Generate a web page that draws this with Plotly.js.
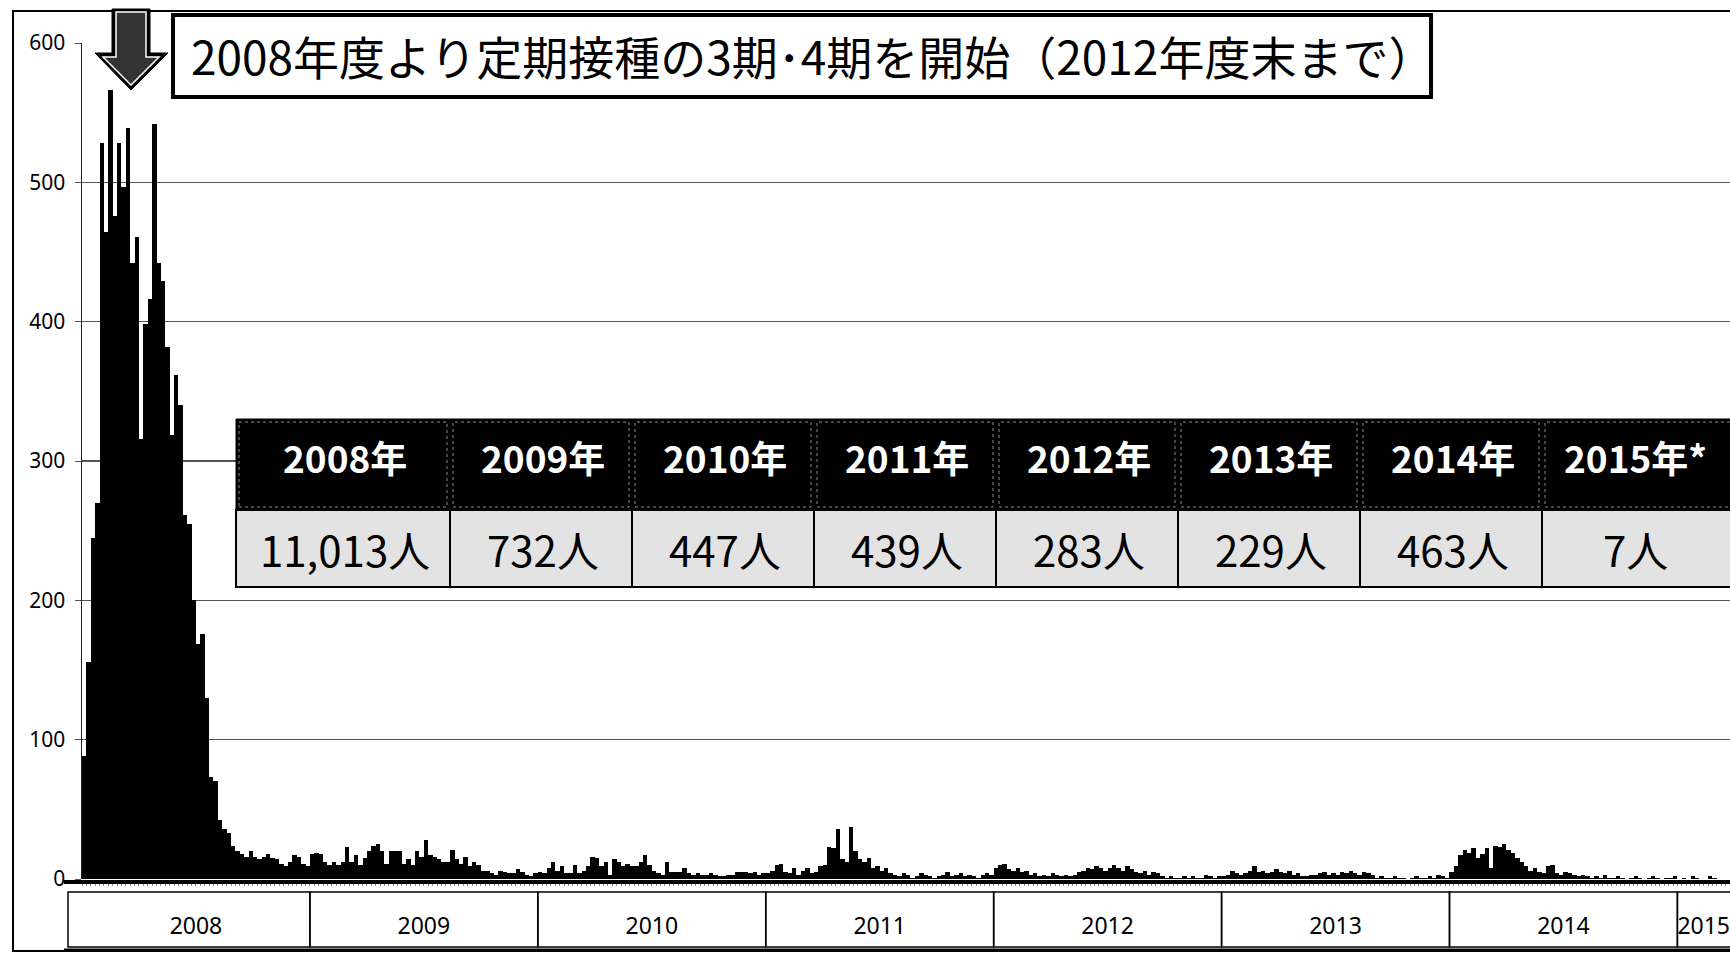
<!DOCTYPE html>
<html><head><meta charset="utf-8">
<script src="https://cdn.plot.ly/plotly-3.0.1.min.js"></script>
<style>html,body{margin:0;padding:0;background:#fff;overflow:hidden}#chart{width:1730px;height:956px}</style>
</head><body><div id="chart"></div>
<script>
// ---- data (weekly reported measles cases) ----
const years = ['2008','2009','2010','2011','2012','2013','2014','2015'];
const cases2008 = [88,156,245,270,528,464,566,476,528,497,539,442,461,316,398,416,542,442,429,382,319,362,340,261,255,200,169,176,130,73,70,42,36,33,24,20,18,16,20,16,14,16,18,15,14,11,9,12,17,16,11,9];
const cases2009 = [18,19,18,12,10,12,10,12,23,12,17,10,15,20,24,25,20,11,20,20,20,11,14,10,20,16,28,17,16,14,12,12,21,14,11,16,9,12,10,6,6,4,3,6,5,4,4,7,5,3,2,4];
const cases2010 = [5,4,8,12,6,9,4,4,10,4,6,9,16,15,9,12,3,14,12,9,11,9,9,12,17,10,6,4,3,12,5,5,5,8,4,3,4,3,3,4,3,2,2,3,3,5,5,5,4,5,3,4];
const cases2011 = [4,6,10,11,5,4,8,3,6,8,4,5,9,10,23,22,36,14,12,37,20,14,12,15,8,9,6,8,4,3,2,4,3,1,2,4,3,2,1,2,3,5,2,3,4,2,3,2,1,3,4,3];
const cases2012 = [8,10,11,7,6,8,5,6,3,4,2,3,2,4,3,2,3,2,3,5,6,8,7,9,8,6,8,10,8,6,9,7,5,4,6,3,5,4,2,1,2,1,1,2,1,2,1,1,3,2,1,2];
const cases2013 = [2,3,6,4,3,4,6,9,5,6,4,5,7,5,4,6,3,4,2,2,3,3,4,5,3,4,3,5,4,6,4,3,5,4,3,1,2,1,1,2,1,1,0,1,2,1,1,2,1,3,2,1];
const cases2014 = [5,9,17,21,19,22,15,18,22,8,24,23,25,21,19,15,12,9,6,8,5,4,9,10,4,3,5,4,3,2,3,2,1,2,1,3,1,1,2,1,0,1,2,1,0,1,2,1,0,1,1,2];
const cases2015 = [0,1,0,2,1,0,0,2,1,0,0,0];
const yTicks = [0,100,200,300,400,500,600];
const tableYears = ['2008年','2009年','2010年','2011年','2012年','2013年','2014年','2015年*'];
const tableCounts = ['11,013人','732人','447人','439人','283人','229人','463人','7人'];
const titleText = '2008年度より定期接種の3期･4期を開始（2012年度末まで）';

// ---- build series ----
const weekly = [cases2008,cases2009,cases2010,cases2011,cases2012,cases2013,cases2014,cases2015];
const xs = [], ys = [], yearStarts = [], tickvals = [];
let idx = 0;
weekly.forEach((arr,k)=>{
  yearStarts.push(idx);
  tickvals.push(arr.length >= 52 ? idx + 25.5 : idx + 5.5);
  arr.forEach(v=>{ xs.push(idx); ys.push(v); idx++; });
});
const nWeeks = idx;

// ---- layout geometry helpers (pixel -> paper) ----
const L = 82, T = 43, W = 1648, H = 836, B = T + H;
const px = X => (X - L) / W;
const py = Y => (B - Y) / H;
const pathFrom = pts => 'M ' + pts.map(p => px(p[0]) + ',' + py(p[1])).join(' L ') + ' Z';

const shapes = [];
const annotations = [];
// outer frame
shapes.push({type:'rect', xref:'paper', yref:'paper', x0:px(13), x1:px(1745), y0:py(951), y1:py(11), line:{color:'#000', width:2}, fillcolor:'rgba(0,0,0,0)', layer:'above'});
// thick baseline and bottom line
shapes.push({type:'line', xref:'paper', yref:'paper', x0:px(64), x1:px(1745), y0:py(882), y1:py(882), line:{color:'#000', width:4}, layer:'above'});
shapes.push({type:'line', xref:'paper', yref:'paper', x0:px(64), x1:px(1745), y0:py(950), y1:py(950), line:{color:'#000', width:3}, layer:'above'});
// year boxes
yearStarts.forEach((s,k)=>{
  const x0 = k === 0 ? px(68) : s / nWeeks;
  const x1 = Math.min((s + 52) / nWeeks, 1.02);
  shapes.push({type:'rect', xref:'paper', yref:'paper', x0:x0, x1:x1, y0:py(947), y1:py(892), line:{color:'#000', width:1.5}, fillcolor:'rgba(0,0,0,0)', layer:'above'});
});
// title box
shapes.push({type:'rect', xref:'paper', yref:'paper', x0:px(173), x1:px(1431), y0:py(97), y1:py(15), line:{color:'#000', width:4}, fillcolor:'#fff', layer:'above'});
annotations.push({xref:'paper', yref:'paper', x:px(189), y:py(55), xanchor:'left', yanchor:'middle', text:titleText, showarrow:false, font:{family:'Noto Sans CJK JP', size:46, color:'#000'}});
// arrow
shapes.push({type:'path', xref:'paper', yref:'paper', path:pathFrom([[112,9],[150,9],[150,53],[168,53],[131,90],[95,53],[112,53]]), fillcolor:'#000', line:{color:'#000', width:1}, layer:'above'});
shapes.push({type:'path', xref:'paper', yref:'paper', path:pathFrom([[116,12],[146,12],[146,57],[159,57],[131,85],[103,57],[116,57]]), fillcolor:'#333', line:{color:'#fff', width:1.5}, layer:'above'});
// table
const colEdges = [236];
tableYears.forEach((t,i)=>{ colEdges.push(colEdges[i] + (i === 0 ? 214 : 182)); });
const hTop = 419, hBot = 510, vBot = 587;
tableYears.forEach((t,i)=>{
  const a = colEdges[i], b = colEdges[i+1] + (i === tableYears.length-1 ? 30 : 0);
  shapes.push({type:'rect', xref:'paper', yref:'paper', x0:px(a), x1:px(b), y0:py(hBot), y1:py(hTop), fillcolor:'#000', line:{color:'#000', width:1}, layer:'above'});
  shapes.push({type:'rect', xref:'paper', yref:'paper', x0:px(a+3), x1:px(b-3), y0:py(hBot-3), y1:py(hTop+3), fillcolor:'rgba(0,0,0,0)', line:{color:'#8a8a8a', width:1, dash:'dot'}, layer:'above'});
  shapes.push({type:'rect', xref:'paper', yref:'paper', x0:px(a), x1:px(b), y0:py(vBot), y1:py(hBot), fillcolor:'#e3e3e3', line:{color:'#000', width:2}, layer:'above'});
  const cx = px((colEdges[i] + colEdges[i+1]) / 2 + 2);
  annotations.push({xref:'paper', yref:'paper', x:cx, y:py(457), xanchor:'center', yanchor:'middle', text:t, showarrow:false, font:{family:'Noto Sans CJK JP', size:37, color:'#fff', weight:700}});
  annotations.push({xref:'paper', yref:'paper', x:cx, y:py(548), xanchor:'center', yanchor:'middle', text:tableCounts[i], showarrow:false, font:{family:'Noto Sans CJK JP', size:42, color:'#000'}});
});

const trace = {type:'bar', x:xs, y:ys, marker:{color:'#000', line:{width:0}}, hoverinfo:'skip'};

const layout = {
  width:1730, height:956,
  margin:{l:L, r:0, t:T, b:956 - B},
  paper_bgcolor:'#fff', plot_bgcolor:'#fff',
  bargap:0, showlegend:false,
  xaxis:{range:[-0.5, nWeeks - 0.5], tickmode:'array', tickvals:tickvals, ticktext:years, ticks:'',
         showgrid:false, zeroline:false, showline:false, ticklabelstandoff:31, ticklabeloverflow:'allow',
         tickfont:{family:'Noto Sans', size:23, color:'#000'},
         minor:{dtick:1, tick0:-0.5, ticks:'outside', ticklen:6, tickcolor:'#8a8a8a', tickwidth:1, showgrid:false}},
  yaxis:{range:[0,600], tickmode:'array', tickvals:yTicks, ticktext:yTicks.map(String),
         showgrid:true, gridcolor:'#555', gridwidth:1.2, zeroline:false,
         showline:true, linecolor:'#222', linewidth:1.5, ticks:'outside', ticklen:6, tickcolor:'#555',
         ticklabelstandoff:5, tickfont:{family:'Noto Sans', size:21, color:'#000'}},
  shapes:shapes, annotations:annotations
};
Plotly.newPlot('chart', [trace], layout, {staticPlot:true, displayModeBar:false});
</script></body></html>
